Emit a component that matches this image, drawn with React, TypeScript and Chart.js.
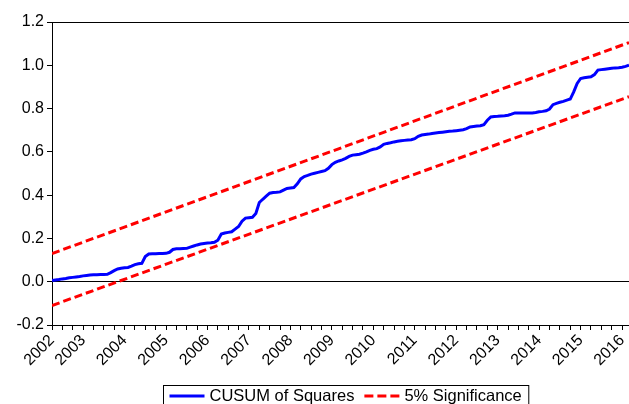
import React, { useEffect, useRef } from "react";
import { Chart, registerables } from "chart.js";

Chart.register(...registerables);

// Monthly sample starting 2002M10
const START_YEAR = 2002;
const START_MONTH = 10;

const cusumOfSquares = [
  0.005, 0.008, 0.010, 0.013, 0.015, 0.018, 0.020, 0.022, 0.024, 0.027,
  0.029, 0.031, 0.032, 0.032, 0.033, 0.033, 0.034, 0.042, 0.051, 0.059,
  0.062, 0.064, 0.066, 0.072, 0.079, 0.083, 0.085, 0.116, 0.128, 0.129,
  0.129, 0.130, 0.130, 0.131, 0.136, 0.149, 0.152, 0.152, 0.153, 0.154,
  0.160, 0.165, 0.170, 0.174, 0.177, 0.179, 0.180, 0.182, 0.192, 0.220,
  0.225, 0.228, 0.231, 0.243, 0.255, 0.280, 0.294, 0.296, 0.298, 0.315,
  0.366, 0.381, 0.395, 0.409, 0.412, 0.413, 0.415, 0.423, 0.431, 0.433,
  0.435, 0.452, 0.475, 0.486, 0.491, 0.497, 0.501, 0.505, 0.509, 0.513,
  0.524, 0.541, 0.552, 0.558, 0.563, 0.570, 0.579, 0.585, 0.587, 0.589,
  0.594, 0.600, 0.607, 0.612, 0.615, 0.623, 0.635, 0.639, 0.642, 0.646,
  0.649, 0.651, 0.653, 0.655, 0.656, 0.661, 0.672, 0.678, 0.680, 0.682,
  0.685, 0.687, 0.689, 0.691, 0.693, 0.695, 0.696, 0.698, 0.700, 0.702,
  0.707, 0.715, 0.717, 0.719, 0.721, 0.726, 0.746, 0.761, 0.763, 0.764,
  0.766, 0.767, 0.769, 0.774, 0.780, 0.780, 0.780, 0.780, 0.780, 0.780,
  0.782, 0.785, 0.787, 0.790, 0.798, 0.818, 0.824, 0.829, 0.833, 0.839,
  0.844, 0.877, 0.916, 0.939, 0.942, 0.945, 0.947, 0.957, 0.978, 0.980,
  0.982, 0.984, 0.986, 0.988, 0.989, 0.991, 0.995, 1.000,
];

// 5% significance bounds at first and last observation
const upperBound = [0.13, 1.105];
const lowerBound = [-0.11, 0.855];

const yTickValues = [-0.2, 0.0, 0.2, 0.4, 0.6, 0.8, 1.0, 1.2];
const yearLabels = [
  "2002", "2003", "2004", "2005", "2006", "2007", "2008", "2009",
  "2010", "2011", "2012", "2013", "2014", "2015", "2016",
];

const SERIES_LABELS = ["CUSUM of Squares", "5% Significance"];
const BLUE = "#0000ff";
const RED = "#ff0000";
const FONT = "'Liberation Sans', Arial, sans-serif";

const xs = cusumOfSquares.map(
  (_, i) => START_YEAR + (START_MONTH - 1) / 12 + i / 12
);
const X_MIN = xs[0];
const X_MAX = xs[xs.length - 1];

const boxedLegend = {
  id: "boxedLegend",
  afterDraw(chart: any) {
    const ctx = chart.ctx as CanvasRenderingContext2D;
    ctx.save();
    ctx.font = `16.5px ${FONT}`;
    const lineLen = 35;
    const gapAfterLine = 5;
    const gapBetween = 10;
    const padLeft = 6;
    const padRight = 7;
    const w1 = ctx.measureText(SERIES_LABELS[0]).width;
    const w2 = ctx.measureText(SERIES_LABELS[1]).width;
    const inner = lineLen + gapAfterLine + w1 + gapBetween + lineLen + gapAfterLine + w2;
    const boxW = inner + padLeft + padRight;
    const cx = 346;
    const left = Math.round(cx - boxW / 2) + 0.5;
    const top = 385.5;
    const midY = 396;
    ctx.strokeStyle = "#000";
    ctx.lineWidth = 1;
    ctx.strokeRect(left, top, boxW, 40);

    let x = left + padLeft;
    ctx.lineWidth = 3;
    ctx.strokeStyle = BLUE;
    ctx.setLineDash([]);
    ctx.beginPath();
    ctx.moveTo(x, midY);
    ctx.lineTo(x + lineLen, midY);
    ctx.stroke();
    x += lineLen + gapAfterLine;
    ctx.fillStyle = "#000";
    ctx.textBaseline = "middle";
    ctx.textAlign = "left";
    ctx.fillText(SERIES_LABELS[0], x, midY);
    x += w1 + gapBetween;
    ctx.strokeStyle = RED;
    ctx.setLineDash([9, 4]);
    ctx.beginPath();
    ctx.moveTo(x, midY);
    ctx.lineTo(x + lineLen, midY);
    ctx.stroke();
    ctx.setLineDash([]);
    x += lineLen + gapAfterLine;
    ctx.fillText(SERIES_LABELS[1], x, midY);
    ctx.restore();
  },
};

export default function App() {
  const canvasRef = useRef<HTMLCanvasElement | null>(null);

  useEffect(() => {
    if (!canvasRef.current) return;
    const chart = new Chart(canvasRef.current, {
      type: "line",
      data: {
        datasets: [
          {
            label: SERIES_LABELS[0],
            data: cusumOfSquares.map((v, i) => ({ x: xs[i], y: v })),
            borderColor: BLUE,
            borderWidth: 3,
            pointRadius: 0,
            tension: 0,
          },
          {
            label: SERIES_LABELS[1],
            data: [
              { x: X_MIN, y: upperBound[0] },
              { x: X_MAX, y: upperBound[1] },
            ],
            borderColor: RED,
            borderWidth: 3,
            borderDash: [8, 4],
            pointRadius: 0,
          },
          {
            label: SERIES_LABELS[1] + " (lower)",
            data: [
              { x: X_MIN, y: lowerBound[0] },
              { x: X_MAX, y: lowerBound[1] },
            ],
            borderColor: RED,
            borderWidth: 3,
            borderDash: [8, 4],
            pointRadius: 0,
          },
        ],
      },
      options: {
        animation: false,
        responsive: true,
        maintainAspectRatio: false,
        layout: { padding: { top: 22, right: 0, left: 0, bottom: 0 } },
        plugins: {
          legend: { display: false },
          tooltip: { enabled: false },
        },
        scales: {
          x: {
            type: "linear",
            min: X_MIN,
            max: X_MAX,
            afterBuildTicks: (scale: any) => {
              const t: any[] = [{ value: X_MIN }];
              for (let y = START_YEAR + 1; y <= START_YEAR + yearLabels.length; y++) {
                for (let q = 0; q < 4; q++) {
                  const v = y + q * 0.25;
                  if (v <= X_MAX + 1e-9) t.push({ value: v });
                }
              }
              scale.ticks = t;
            },
            afterFit: (scale: any) => {
              scale.height = 79;
              scale.paddingLeft = 0;
              scale.paddingRight = 0;
            },
            ticks: {
              autoSkip: false,
              maxRotation: 45,
              minRotation: 45,
              padding: 1,
              color: "#000",
              font: { family: FONT, size: 16 },
              callback: (value: any) => {
                const v = Number(value);
                if (Math.abs(v - X_MIN) < 1e-6) return yearLabels[0];
                const yr = Math.floor(v);
                if (Math.abs(v - yr - 0.5) < 1e-6) {
                  const idx = yr - START_YEAR;
                  return yearLabels[idx] ?? "";
                }
                return "";
              },
            },
            grid: {
              display: true,
              drawOnChartArea: false,
              drawTicks: true,
              tickLength: 5,
              tickColor: "#000",
            },
            border: { display: true, color: "#000", width: 1 },
          },
          y: {
            type: "linear",
            min: -0.2,
            max: 1.2,
            afterBuildTicks: (scale: any) => {
              scale.ticks = yTickValues.map((v) => ({ value: v }));
            },
            afterFit: (scale: any) => {
              scale.width = 52;
              scale.paddingTop = 0;
              scale.paddingBottom = 0;
            },
            ticks: {
              padding: 3,
              color: "#000",
              font: { family: FONT, size: 16 },
              callback: (value: any) => Number(value).toFixed(1),
            },
            grid: {
              display: true,
              drawOnChartArea: true,
              drawTicks: true,
              tickLength: 5,
              tickColor: "#000",
              lineWidth: 1,
              color: (ctx: any) => {
                const v = ctx.tick ? ctx.tick.value : null;
                if (v === null) return "rgba(0,0,0,0)";
                if (Math.abs(v) < 1e-9 || Math.abs(v - 1.2) < 1e-9) return "#000";
                return "rgba(0,0,0,0)";
              },
            },
            border: { display: true, color: "#000", width: 1 },
          },
        },
      },
      plugins: [boxedLegend],
    });
    return () => chart.destroy();
  }, []);

  return (
    <div
      style={{
        position: "fixed",
        left: 0,
        top: 0,
        width: 629,
        height: 404,
        background: "#fff",
      }}
    >
      <canvas ref={canvasRef} />
    </div>
  );
}
